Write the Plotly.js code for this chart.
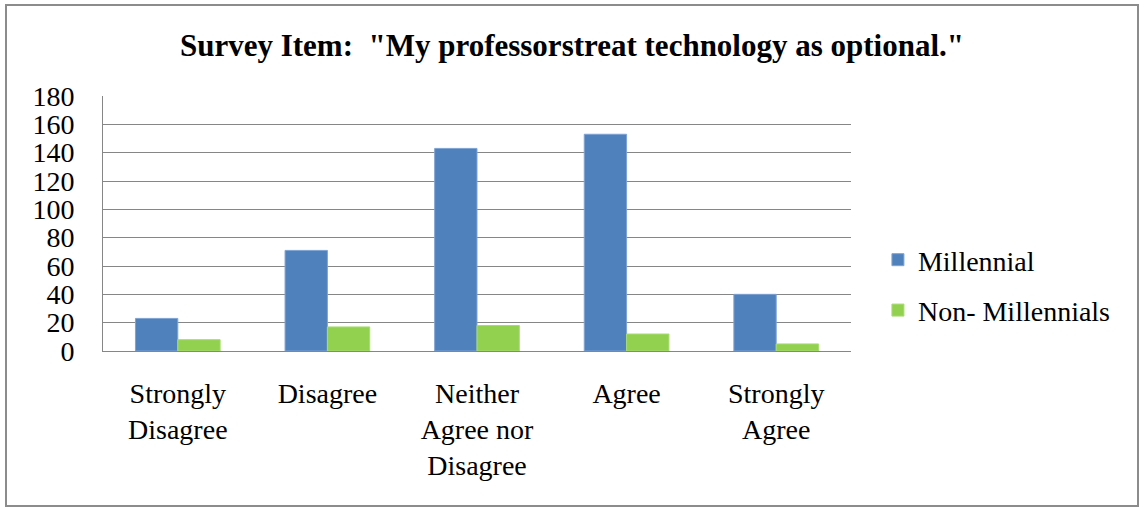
<!DOCTYPE html>
<html>
<head>
<meta charset="utf-8">
<script src="https://cdn.plot.ly/plotly-3.0.1.min.js"></script>
<style>
  body { margin: 0; background: #fff; }
  #wrap { position: relative; width: 1144px; height: 508px; }
  #chart { width: 1144px; height: 508px; }
  #frame {
    position: absolute; left: 5px; top: 4px; width: 1130px; height: 499px;
    border: 2px solid #8c8c8c; pointer-events: none;
  }
</style>
</head>
<body>
<div id="wrap">
  <div id="chart"></div>
  <div id="frame"></div>
</div>
<script>
// survey answers
var categories = ['Strongly<br>Disagree', 'Disagree', 'Neither<br>Agree nor<br>Disagree', 'Agree', 'Strongly<br>Agree']
var millennial = [23, 71, 143, 153, 40]
var nonMillennials = [8, 17, 18, 12, 5]
var yTicks = [0, 20, 40, 60, 80, 100, 120, 140, 160, 180]

var serif = 'Liberation Serif'

function drawPlot() {
    var trace1 = {
        x: categories,
        y: millennial,
        type: 'bar',
        name: 'Millennial',
        legendgroup: 'a',
        marker: { color: '#4F81BD', line: { color: '#7FA3D4', width: 1 } }
    }

    var trace2 = {
        x: categories,
        y: nonMillennials,
        type: 'bar',
        name: 'Non- Millennials',
        legendgroup: 'b',
        marker: { color: '#92D050', line: { color: '#A8DC72', width: 1 } }
    }

    var data = [trace1, trace2]

    var layout = {
        width: 1144,
        height: 508,
        margin: { l: 103, r: 293, t: 96, b: 157 },
        paper_bgcolor: '#ffffff',
        plot_bgcolor: '#ffffff',
        font: { family: serif, size: 28, color: '#000000' },
        title: {
            text: '<b>Survey Item:  "My professorstreat technology as optional."</b>',
            font: { family: serif, size: 31, color: '#000000' },
            x: 0.5,
            xanchor: 'center',
            y: 1 - 45 / 508,
            yanchor: 'middle'
        },
        barmode: 'group',
        bargap: 0.434,
        bargroupgap: 0,
        xaxis: {
            showgrid: false,
            showline: true,
            linecolor: '#868686',
            linewidth: 1,
            ticks: '',
            tickangle: 0,
            tickfont: { family: serif, size: 28 },
            ticklabelstandoff: 17,
            fixedrange: true
        },
        yaxis: {
            range: [0, 180],
            tickvals: yTicks,
            showgrid: true,
            gridcolor: '#868686',
            gridwidth: 1,
            showline: true,
            linecolor: '#868686',
            linewidth: 1,
            zeroline: false,
            ticks: '',
            tickfont: { family: serif, size: 28 },
            ticklabelstandoff: 22,
            fixedrange: true
        },
        showlegend: true,
        legend: {
            x: 1.036,
            xanchor: 'left',
            y: 0.455,
            yanchor: 'top',
            itemwidth: 30,
            traceorder: 'grouped',
            tracegroupgap: 11,
            font: { family: serif, size: 28 },
            bgcolor: 'rgba(0,0,0,0)'
        }
    }

    var config = { displayModeBar: false, staticPlot: true }

    Plotly.newPlot('chart', data, layout, config)
}

drawPlot()
</script>
</body>
</html>
